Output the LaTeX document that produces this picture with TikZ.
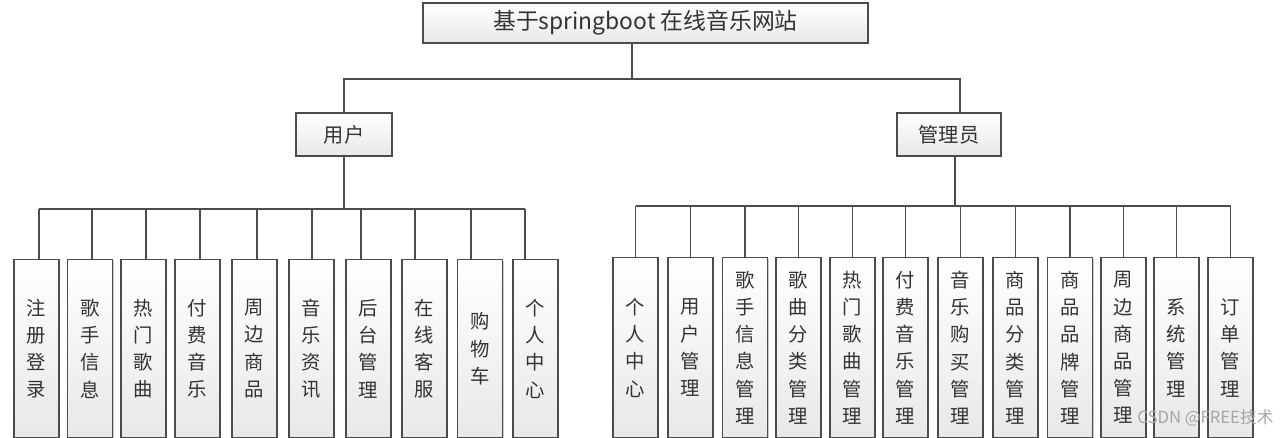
\documentclass[tikz,border=0pt]{standalone}
\usepackage{fontspec}
\setmainfont{Noto Sans CJK SC}
\usetikzlibrary{shadows}

\tikzset{
  box/.style={draw=black!70, line width=0.8pt, top color=white, bottom color=black!9,
    drop shadow={shadow xshift=0.7pt, shadow yshift=-0.7pt, fill=black!25, opacity=0.8},
    text=black!80, inner sep=0pt},
  leaf/.style={box, anchor=north, minimum width=0.9cm, align=center,
    font=\fontsize{11}{15.5}\selectfont},
  link/.style={draw=black!70, line width=0.8pt},
}

\begin{document}
\begin{tikzpicture}[x=0.02cm, y=-0.02cm]
\useasboundingbox (0,0) rectangle (1280,438);
%\draw[help lines,step=50] (0,0) grid (1280,438);

\node[box, minimum width=8.9cm, minimum height=0.8cm, font=\fontsize{13}{15}\selectfont] (site) at (645.5,23) {基于springboot 在线音乐网站};
\node[box, minimum width=1.92cm, minimum height=0.86cm, font=\fontsize{11.5}{14}\selectfont] (user) at (344,134.5) {用户};
\node[box, minimum width=2.08cm, minimum height=0.86cm, font=\fontsize{11.5}{14}\selectfont] (admin) at (949,134.5) {管理员};

\coordinate (top) at (632,79);
\draw[link] (site.south -| top) -- (top);
\draw[link] (user.north) |- (top) -| ([xshift=0.22cm]admin.north);

% user functions
\foreach \i/\x/\d/\t in {1/36.5/39/注\\册\\登\\录, 2/90/92/歌\\手\\信\\息, 3/143.5/146/热\\门\\歌\\曲,
  4/197.5/200/付\\费\\音\\乐, 5/254.5/257/周\\边\\商\\品, 6/311.5/312/音\\乐\\资\\讯,
  7/368.5/361/后\\台\\管\\理, 8/424.5/415/在\\线\\客\\服, 9/480/471/购\\物\\车, 10/535.5/525/个\\人\\中\\心}
{
  \node[leaf, minimum height=3.56cm] (u\i) at (\x,259) {\t};
  \coordinate (ud\i) at (\d,209);
  \draw[link] (ud\i) -- (ud\i |- u\i.north);
}
\draw[link] (ud1) -- (ud10);
\draw[link] (user.south) -- (user.south |- ud1);

% admin functions
\coordinate (abus) at (955,206);
\foreach \i/\x/\t in {1/635.5/个\\人\\中\\心, 2/690.5/用\\户\\管\\理, 3/745/歌\\手\\信\\息\\管\\理,
  4/798.5/歌\\曲\\分\\类\\管\\理, 5/852.5/热\\门\\歌\\曲\\管\\理, 6/905.5/付\\费\\音\\乐\\管\\理,
  7/960.5/音\\乐\\购\\买\\管\\理, 8/1015.5/商\\品\\分\\类\\管\\理, 9/1070/商\\品\\品\\牌\\管\\理,
  10/1123.5/周\\边\\商\\品\\管\\理, 11/1176.5/系\\统\\管\\理, 12/1230.5/订\\单\\管\\理}
{
  \node[leaf, minimum height=3.6cm] (a\i) at (\x,257) {\t};
  \draw[link] (a\i.north) -- (a\i.north |- abus);
}
\draw[link] (a1.north |- abus) -- (a12.north |- abus);
\draw[link] ([xshift=0.12cm]admin.south) -- ([xshift=0.12cm]admin.south |- abus);

\node[anchor=base west, text=black!35, font=\fontsize{9.5}{10}\selectfont, inner sep=0pt] (mark) at (1137,423) {CSDN @FREE技术};
\end{tikzpicture}
\end{document}
